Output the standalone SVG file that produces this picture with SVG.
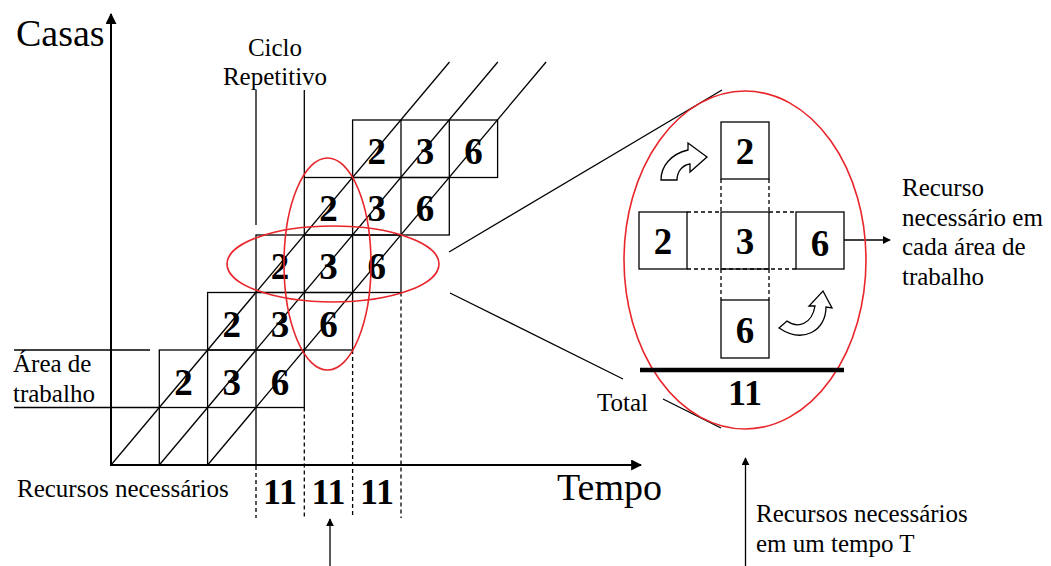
<svg xmlns="http://www.w3.org/2000/svg" width="1051" height="566" viewBox="0 0 1051 566">
  <defs>
    <marker id="arrow" viewBox="0 0 10 10" refX="9" refY="5" markerWidth="8" markerHeight="8" markerUnits="userSpaceOnUse" orient="auto">
      <path d="M0,0 L10,5 L0,10 Z" fill="#000"/>
    </marker>
    <marker id="arrowBig" viewBox="0 0 10 10" refX="9" refY="5" markerWidth="11" markerHeight="11" markerUnits="userSpaceOnUse" orient="auto">
      <path d="M0,0 L10,5 L0,10 Z" fill="#000"/>
    </marker>
  </defs>
  <style>
    .txt { font-family: "Liberation Serif", "Times New Roman", serif; fill: #000; }
    .lbl { font-size: 25px; }
    .big { font-size: 38px; }
    .num { font-size: 37px; font-weight: bold; text-anchor: middle; }
    .sum { font-size: 36px; font-weight: bold; text-anchor: middle; }
    .grid { stroke: #000; stroke-width: 1.3; fill: none; }
    .dash { stroke: #000; stroke-width: 1.3; stroke-dasharray: 4 3; fill: none; }
    .cell { stroke: #000; stroke-width: 1.3; fill: #fff; }
    .red { stroke: #e8262b; stroke-width: 1.6; fill: none; }
    .axis { stroke: #000; stroke-width: 2; fill: none; }
  </style>

  <rect width="1051" height="566" fill="#fff"/>

  <!-- axes -->
  <g id="axes">
    <line class="axis" x1="111" y1="466" x2="111" y2="14" marker-end="url(#arrowBig)"/>
    <line class="axis" x1="110" y1="465" x2="641" y2="465" marker-end="url(#arrowBig)"/>
    <text class="txt big" x="16" y="46">Casas</text>
    <text class="txt big" x="557" y="500">Tempo</text>
  </g>

  <!-- work-area rows: 2 / 3 / 6 per row, shifted one column each step -->
  <g id="rows">
    <!-- grid under the first row -->
    <line class="grid" x1="159.3" y1="407.5" x2="159.3" y2="465"/>
    <line class="grid" x1="207.6" y1="407.5" x2="207.6" y2="465"/>
    <line class="grid" x1="256" y1="407.5" x2="256" y2="465"/>

    <g id="row1">
      <rect class="grid" x="159.3" y="350" width="145" height="57.5"/>
      <line class="grid" x1="207.6" y1="350" x2="207.6" y2="407.5"/>
      <line class="grid" x1="256" y1="350" x2="256" y2="407.5"/>
    </g>
    <g id="row2">
      <rect class="grid" x="207.6" y="292.5" width="145" height="57.5"/>
      <line class="grid" x1="256" y1="292.5" x2="256" y2="350"/>
      <line class="grid" x1="304.3" y1="292.5" x2="304.3" y2="350"/>
    </g>
    <g id="row3">
      <rect class="grid" x="256" y="235" width="145" height="57.5"/>
      <line class="grid" x1="304.3" y1="235" x2="304.3" y2="292.5"/>
      <line class="grid" x1="352.6" y1="235" x2="352.6" y2="292.5"/>
    </g>
    <g id="row4">
      <rect class="grid" x="304.3" y="177.5" width="145" height="57.5"/>
      <line class="grid" x1="352.6" y1="177.5" x2="352.6" y2="235"/>
      <line class="grid" x1="401" y1="177.5" x2="401" y2="235"/>
    </g>
    <g id="row5">
      <rect class="grid" x="352.6" y="120" width="145" height="57.5"/>
      <line class="grid" x1="401" y1="120" x2="401" y2="177.5"/>
      <line class="grid" x1="449.3" y1="120" x2="449.3" y2="177.5"/>
    </g>

    <!-- work-area guide lines -->
    <line class="grid" x1="14" y1="407.5" x2="159.3" y2="407.5"/>
    <line class="grid" x1="14" y1="350" x2="150" y2="350"/>

    <!-- cycle guide lines -->
    <line class="grid" x1="256" y1="90" x2="256" y2="225"/>
    <line class="grid" x1="304.3" y1="90" x2="304.3" y2="177.5"/>

    <!-- diagonal progress lines -->
    <line class="grid" x1="111" y1="465" x2="449.5" y2="62"/>
    <line class="grid" x1="159.3" y1="465" x2="497.8" y2="62"/>
    <line class="grid" x1="207.6" y1="465" x2="546.1" y2="62"/>

    <!-- dashed time markers -->
    <line class="dash" x1="256" y1="466" x2="256" y2="518"/>
    <line class="dash" x1="304.3" y1="407.5" x2="304.3" y2="518"/>
    <line class="dash" x1="352.6" y1="350" x2="352.6" y2="518"/>
    <line class="dash" x1="401" y1="292.5" x2="401" y2="518"/>

    <!-- cell values -->
    <text class="txt num" x="183.5" y="395">2</text>
    <text class="txt num" x="231.8" y="395">3</text>
    <text class="txt num" x="280.1" y="395">6</text>

    <text class="txt num" x="231.8" y="337">2</text>
    <text class="txt num" x="280.1" y="337">3</text>
    <text class="txt num" x="328.5" y="337">6</text>

    <text class="txt num" x="280.1" y="279">2</text>
    <text class="txt num" x="328.5" y="279">3</text>
    <text class="txt num" x="376.8" y="279">6</text>

    <text class="txt num" x="328.5" y="221">2</text>
    <text class="txt num" x="376.8" y="221">3</text>
    <text class="txt num" x="425.1" y="221">6</text>

    <text class="txt num" x="376.8" y="164">2</text>
    <text class="txt num" x="425.1" y="164">3</text>
    <text class="txt num" x="473.4" y="164">6</text>
  </g>

  <!-- highlight ellipses -->
  <g id="highlights">
    <ellipse class="red" cx="333" cy="264" rx="106" ry="38"/>
    <ellipse class="red" cx="327.5" cy="264" rx="43.5" ry="106"/>
  </g>

  <!-- left labels -->
  <g id="labels-left">
    <text class="txt lbl" x="275" y="56" text-anchor="middle">Ciclo</text>
    <text class="txt lbl" x="275" y="85" text-anchor="middle">Repetitivo</text>
    <text class="txt lbl" x="13" y="372">Área de</text>
    <text class="txt lbl" x="13" y="402">trabalho</text>
    <text class="txt lbl" x="17" y="497">Recursos necessários</text>
    <text class="txt sum" x="280" y="504">11</text>
    <text class="txt sum" x="328.5" y="504">11</text>
    <text class="txt sum" x="377" y="504">11</text>
  </g>

  <!-- connectors -->
  <g id="connectors">
    <line class="grid" x1="449" y1="252" x2="722" y2="90"/>
    <line class="grid" x1="450" y1="293" x2="623" y2="379"/>
    <line class="grid" x1="663" y1="399" x2="721" y2="428"/>
    <line class="grid" x1="330" y1="566" x2="330" y2="519" marker-end="url(#arrow)"/>
    <line class="grid" x1="745.5" y1="566" x2="745.5" y2="458" marker-end="url(#arrow)"/>
    <line class="grid" x1="844" y1="240" x2="890" y2="240" marker-end="url(#arrow)"/>
  </g>

  <!-- detail: resources at a time T -->
  <g id="detail">
    <ellipse class="red" cx="745" cy="260" rx="121" ry="169"/>

    <!-- dashed cross connecting the cells -->
    <line class="dash" x1="721" y1="179" x2="721" y2="212"/>
    <line class="dash" x1="769" y1="179" x2="769" y2="212"/>
    <line class="dash" x1="721" y1="269" x2="721" y2="300"/>
    <line class="dash" x1="769" y1="269" x2="769" y2="300"/>
    <line class="dash" x1="687" y1="212" x2="721" y2="212"/>
    <line class="dash" x1="769" y1="212" x2="796" y2="212"/>
    <line class="dash" x1="687" y1="269" x2="796" y2="269"/>

    <g id="cell-top">
      <rect class="grid" x="721" y="122" width="48" height="57"/>
      <text class="txt num" x="745" y="164">2</text>
    </g>
    <g id="cell-left">
      <rect class="grid" x="639" y="212" width="48" height="57"/>
      <text class="txt num" x="663" y="254">2</text>
    </g>
    <g id="cell-center">
      <rect class="grid" x="721" y="212" width="48" height="57"/>
      <text class="txt num" x="745" y="254">3</text>
    </g>
    <g id="cell-right">
      <rect class="grid" x="796" y="212" width="48" height="57"/>
      <text class="txt num" x="820" y="256">6</text>
    </g>
    <g id="cell-bottom">
      <rect class="grid" x="721" y="300" width="48" height="58"/>
      <text class="txt num" x="745" y="343">6</text>
    </g>

    <!-- curved block arrows -->
    <path class="grid" d="M661,180 C661,166 671,154 688,150 L688,143 L707,157 L690,172 L690,164 C682,165 677,172 677,180 Z"/>
    <path class="grid" d="M779,328 L787,321 C798,329 812,324 815,306 L809,306 L823,291 L832,308 L826,307 C826,331 803,344 779,328 Z"/>

    <!-- total bar -->
    <line x1="640" y1="370" x2="844" y2="370" stroke="#000" stroke-width="4.5"/>
    <text class="txt sum" x="745" y="405">11</text>
    <text class="txt lbl" x="597" y="411">Total</text>
  </g>

  <!-- right labels -->
  <g id="labels-right">
    <text class="txt lbl" x="902" y="196">Recurso</text>
    <text class="txt lbl" x="902" y="226">necessário em</text>
    <text class="txt lbl" x="902" y="255">cada área de</text>
    <text class="txt lbl" x="902" y="285">trabalho</text>
    <text class="txt lbl" x="756" y="522">Recursos necessários</text>
    <text class="txt lbl" x="756" y="552">em um tempo T</text>
  </g>
</svg>
